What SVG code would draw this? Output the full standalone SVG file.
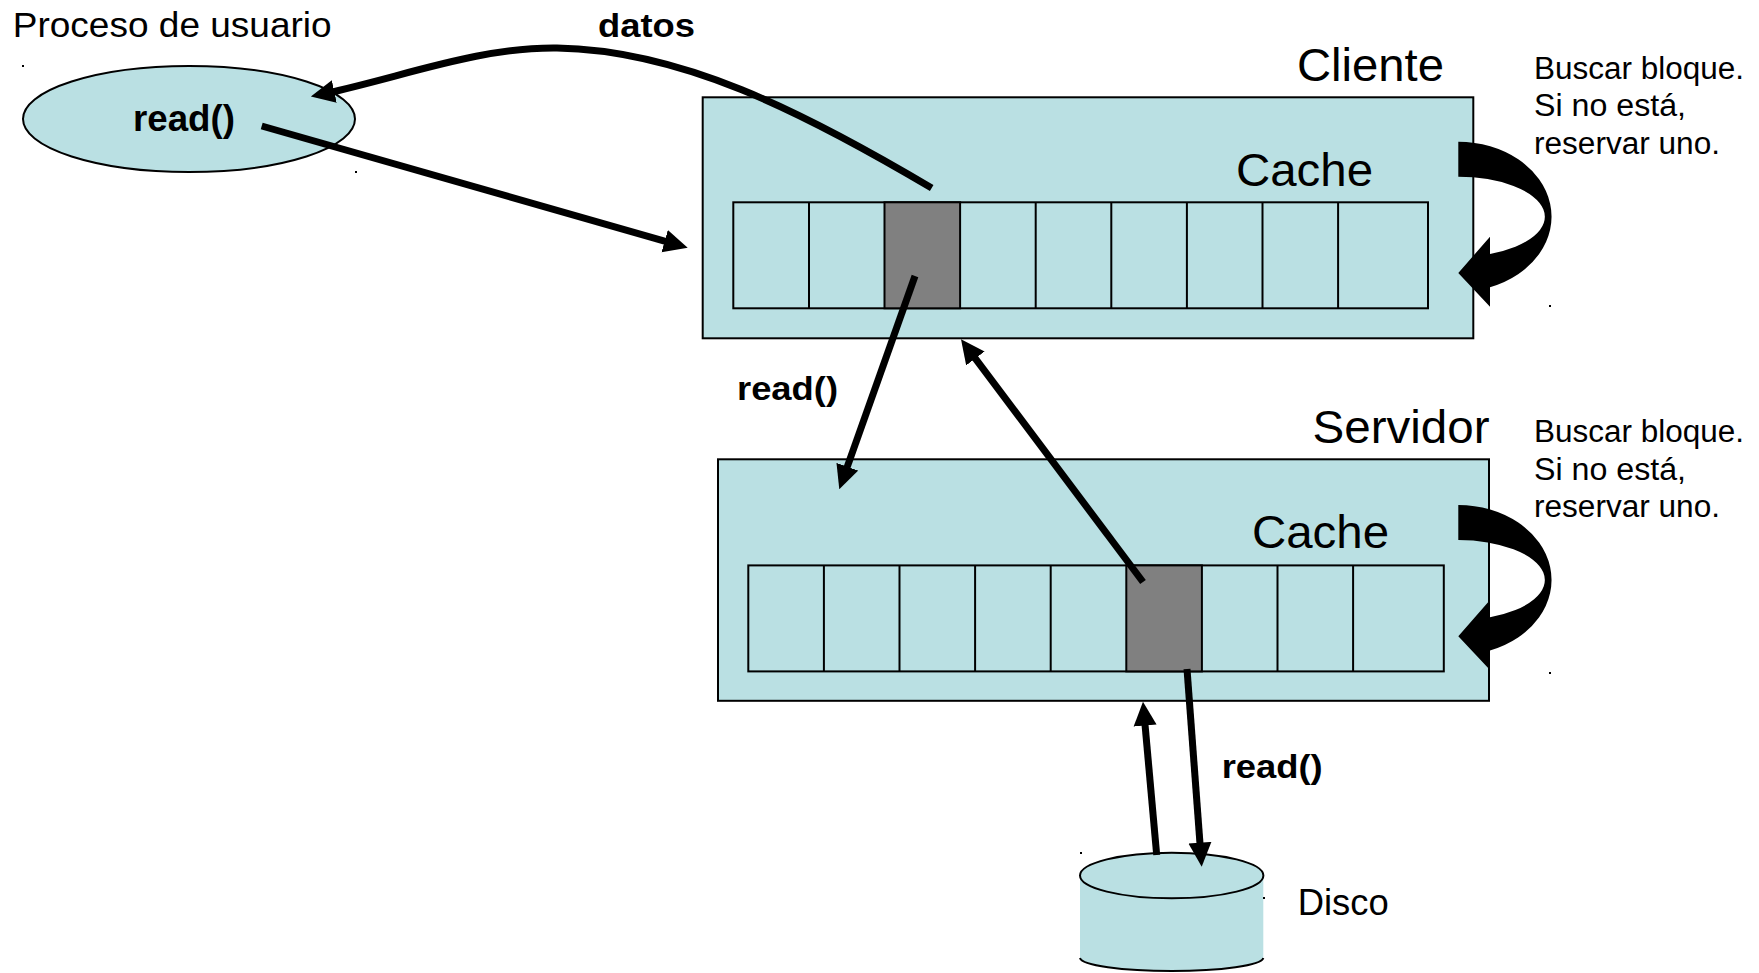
<svg xmlns="http://www.w3.org/2000/svg" width="1759" height="973" viewBox="0 0 1759 973">
<defs>
<style>
.t{font-family:"Liberation Sans",Arial,sans-serif;fill:#000}
.b{font-weight:bold}
.box{fill:#BAE0E3;stroke:#000;stroke-width:2}
.cell{fill:#BAE0E3;stroke:#000;stroke-width:2}
.gray{fill:#808080;stroke:#000;stroke-width:2}
.arr{fill:none;stroke:#000;stroke-width:7;marker-end:url(#ah)}
.dot{fill:#000}
</style>
<marker id="ah" markerUnits="userSpaceOnUse" markerWidth="24" markerHeight="24" viewBox="0 0 24 24" refX="9" refY="12" orient="auto">
<path d="M0,0.5 L24,12 L0,23.5 Z" fill="#000"/>
</marker>
<path id="curl" d="M1458.3 141.7 A93.4 75 0 0 1 1490 287.2 L1490 306.7 L1458.3 273 L1490 236.7 L1490 253.9 A86.7 40 0 0 0 1458.3 176.7 Z" fill="#000"/>
</defs>
<rect width="1759" height="973" fill="#fff"/>

<g id="proceso">
<ellipse cx="189" cy="119" rx="166" ry="53" fill="#BAE0E3" stroke="#000" stroke-width="2"/>
<text class="t" x="12.7" y="37" font-size="35" textLength="319" lengthAdjust="spacingAndGlyphs">Proceso de usuario</text>
<text class="t b" x="133" y="131" font-size="37" textLength="102" lengthAdjust="spacingAndGlyphs">read()</text>
<rect class="dot" x="22" y="65" width="2" height="2"/>
<rect class="dot" x="355" y="171" width="2" height="2"/>
</g>

<g id="cliente">
<rect class="box" x="702.7" y="97.3" width="770.6" height="241"/>
<text class="t" x="1297" y="81" font-size="47" textLength="147" lengthAdjust="spacingAndGlyphs">Cliente</text>
<text class="t" x="1236" y="186" font-size="47" textLength="137" lengthAdjust="spacingAndGlyphs">Cache</text>
<rect class="cell" x="733.3" y="202.3" width="694.7" height="106"/>
<rect class="gray" x="884.5" y="202.3" width="75.6" height="106"/>
<path d="M809 202.3V308.3M1035.7 202.3V308.3M1111.3 202.3V308.3M1186.9 202.3V308.3M1262.5 202.3V308.3M1338.1 202.3V308.3" stroke="#000" stroke-width="2"/>
<use href="#curl"/>
<text class="t" font-size="31" x="1534" y="78.5" textLength="210" lengthAdjust="spacingAndGlyphs">Buscar bloque.</text>
<text class="t" font-size="31" x="1534" y="116" textLength="152" lengthAdjust="spacingAndGlyphs">Si no está,</text>
<text class="t" font-size="31" x="1534" y="153.5" textLength="186" lengthAdjust="spacingAndGlyphs">reservar uno.</text>
<rect class="dot" x="1549" y="305" width="2" height="2"/>
</g>

<g id="servidor">
<rect class="box" x="718" y="459.3" width="771" height="241.5"/>
<text class="t" x="1312.5" y="443" font-size="47" textLength="177" lengthAdjust="spacingAndGlyphs">Servidor</text>
<text class="t" x="1252" y="547.5" font-size="47" textLength="137" lengthAdjust="spacingAndGlyphs">Cache</text>
<rect class="cell" x="748.3" y="565.4" width="695.5" height="106"/>
<rect class="gray" x="1126.3" y="565.4" width="75.6" height="106"/>
<path d="M823.9 565.4V671.4M899.5 565.4V671.4M975.1 565.4V671.4M1050.7 565.4V671.4M1277.5 565.4V671.4M1353.1 565.4V671.4" stroke="#000" stroke-width="2"/>
<use href="#curl" transform="translate(0,363.3)"/>
<text class="t" font-size="31" x="1534" y="442" textLength="210" lengthAdjust="spacingAndGlyphs">Buscar bloque.</text>
<text class="t" font-size="31" x="1534" y="479.5" textLength="152" lengthAdjust="spacingAndGlyphs">Si no está,</text>
<text class="t" font-size="31" x="1534" y="517" textLength="186" lengthAdjust="spacingAndGlyphs">reservar uno.</text>
<rect class="dot" x="1549" y="672" width="2" height="2"/>
</g>

<g id="disco">
<path d="M1080 875.5 L1080 958 A91.7 13.5 0 0 0 1263.3 958 L1263.3 875.5 Z" fill="#BAE0E3"/>
<path d="M1080 958 A91.7 13.5 0 0 0 1263.3 958" fill="none" stroke="#000" stroke-width="2"/>
<ellipse cx="1171.7" cy="875.5" rx="91.7" ry="22.8" fill="#BAE0E3" stroke="#000" stroke-width="2"/>
<text class="t" x="1297.7" y="915" font-size="36" textLength="91" lengthAdjust="spacingAndGlyphs">Disco</text>
<rect class="dot" x="1080" y="852" width="2" height="2"/>
<rect class="dot" x="1263" y="897" width="2" height="2"/>
</g>

<g id="connectors">
<path class="arr" d="M931.7 188 C800 110, 680 50, 557 48 C480 47, 405 76, 325.5 93.4"/>
<text class="t b" x="598" y="37" font-size="34" textLength="97" lengthAdjust="spacingAndGlyphs">datos</text>
<path class="arr" d="M261.7 126 L673.3 243.6"/>
<path class="arr" d="M915 276 L844.3 475.2"/>
<text class="t b" x="737" y="400" font-size="34" textLength="101" lengthAdjust="spacingAndGlyphs">read()</text>
<path class="arr" d="M1143 582 L970 351.3"/>
<path class="arr" d="M1187 669 L1200.6 851.7"/>
<path class="arr" d="M1156.7 855 L1144.3 716.6"/>
<text class="t b" x="1221.7" y="778" font-size="34" textLength="101" lengthAdjust="spacingAndGlyphs">read()</text>
</g>
</svg>
